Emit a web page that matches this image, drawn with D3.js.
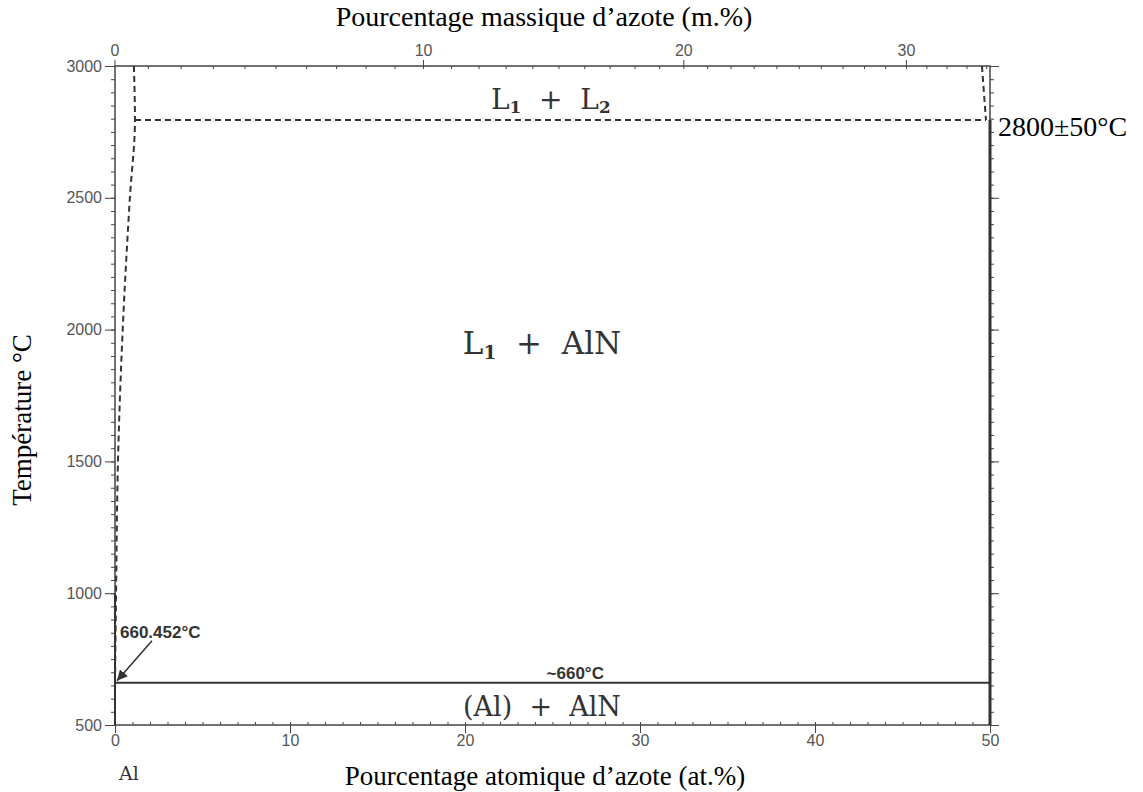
<!DOCTYPE html>
<html>
<head>
<meta charset="utf-8">
<title>Diagramme Al-N</title>
<style>
body { margin: 0; background: #fff; }
.title { font: 27px "Liberation Serif", "Times New Roman", serif; fill: #000; }
.phase { font-family: "DejaVu Serif", serif; fill: #333; }
path.dash { fill: none; stroke: #333; stroke-width: 2px; stroke-dasharray: 6,4; }
</style>
</head>
<body>
<script src="https://cdn.jsdelivr.net/npm/d3@7/dist/d3.min.js"></script>
<script>

// data
var tempTicks = [500, 1000, 1500, 2000, 2500, 3000];
var atTicks = [0, 10, 20, 30, 40, 50];
var wtTicks = [0, 10, 20, 30];
// liquidus of L1 (at.% N, T °C)
var liquidusL1 = [[1.08, 3000], [1.14, 2795], [0.85, 2500], [0.44, 2000], [0.17, 1500], [0.06, 1000], [0, 660.452]];
// liquidus of L2 near AlN
var liquidusL2 = [[49.54, 3000], [49.77, 2795]];
var monotectic = [[1.14, 2795], [49.77, 2795]];
var eutectic = [[0, 660], [50, 660]];
var alnLine = [[50, 500], [50, 2795]];
var alMelt = [0, 660.452];

var width = 1143, height = 792;

var x = d3.scaleLinear().domain([0, 50]).range([115, 990]);
var y = d3.scaleLinear().domain([500, 3000]).range([725, 66]);

// mass % -> atomic %
var MN = 14.007, MAl = 26.982;
function wtToAt(w) {
  var n = w / MN, a = (100 - w) / MAl;
  return 100 * n / (n + a);
}

var svg = d3.select("body").append("svg")
    .attr("width", width)
    .attr("height", height);

function tidy(g) {
  g.select(".domain").remove();
  g.attr("font-size", 16).attr("font-family", "'Liberation Sans', Arial, sans-serif");
  g.selectAll("text").attr("fill", "#555").attr("font-size", 16);
  g.selectAll("line").attr("stroke", "#444");
}

// left axis
var minorT = d3.range(500, 3001, 50);
svg.append("g")
    .attr("transform", "translate(" + x(0) + ",0)")
    .call(d3.axisLeft(y).tickValues(minorT).tickSize(4).tickFormat(""))
    .call(tidy);
svg.append("g")
    .attr("transform", "translate(" + x(0) + ",0)")
    .call(d3.axisLeft(y).tickValues(tempTicks).tickSize(10).tickPadding(3).tickFormat(d3.format("d")))
    .call(tidy);

// right axis
svg.append("g")
    .attr("transform", "translate(" + x(50) + ",0)")
    .call(d3.axisRight(y).tickValues(minorT).tickSize(4).tickFormat(""))
    .call(tidy);
svg.append("g")
    .attr("transform", "translate(" + x(50) + ",0)")
    .call(d3.axisRight(y).tickValues(tempTicks).tickSize(9).tickFormat(""))
    .call(tidy);

// bottom axis
svg.append("g")
    .attr("transform", "translate(0," + y(500) + ")")
    .call(d3.axisTop(x).tickValues(d3.range(0, 51, 1)).tickSize(3).tickFormat(""))
    .call(tidy);
svg.append("g")
    .attr("transform", "translate(0," + y(500) + ")")
    .call(d3.axisBottom(x).tickValues(atTicks).tickSize(8).tickPadding(2).tickFormat(d3.format("d")))
    .call(tidy);

// top axis (mass %)
var topG = svg.append("g").attr("transform", "translate(0," + y(3000) + ")");
topG.selectAll("line.minor")
    .data(d3.range(1, 35, 1))
    .join("line")
    .attr("x1", function(d) { return x(wtToAt(d)); })
    .attr("x2", function(d) { return x(wtToAt(d)); })
    .attr("y1", 0).attr("y2", 3);
var topTicks = topG.selectAll("g.tick")
    .data(wtTicks)
    .join("g")
    .attr("class", "tick")
    .attr("transform", function(d) { return "translate(" + x(wtToAt(d)) + ",0)"; });
topTicks.append("line").attr("y1", 0).attr("y2", -6);
topTicks.append("text").attr("y", -10).attr("text-anchor", "middle").text(function(d) { return d; });
topG.call(tidy);

// frame
var line = d3.line().x(function(d) { return x(d[0]); }).y(function(d) { return y(d[1]); });
svg.append("rect")
    .attr("x", x(0)).attr("y", y(3000))
    .attr("width", x(50) - x(0)).attr("height", y(500) - y(3000))
    .attr("fill", "none").attr("stroke", "#444").attr("stroke-width", 1.5);

// phase boundaries
svg.append("path").datum(liquidusL1).attr("class", "dash")
    .attr("d", d3.line().curve(d3.curveMonotoneY).x(function(d) { return x(d[0]); }).y(function(d) { return y(d[1]); }));
svg.append("path").datum(liquidusL2).attr("class", "dash").attr("d", line);
svg.append("path").datum(monotectic).attr("class", "dash").attr("d", line);
svg.append("path").datum(eutectic).attr("d", line)
    .attr("fill", "none").attr("stroke", "#333").attr("stroke-width", 2);
svg.append("path").datum(alnLine).attr("d", line)
    .attr("fill", "none").attr("stroke", "#333").attr("stroke-width", 3);
svg.append("path").datum([[0, 500], [0, 1000]]).attr("d", line)
    .attr("fill", "none").attr("stroke", "#333").attr("stroke-width", 2);

// arrow to Al melting point
svg.append("defs").append("marker")
    .attr("id", "arr").attr("viewBox", "0 0 10 10")
    .attr("refX", 10).attr("refY", 5)
    .attr("markerWidth", 7).attr("markerHeight", 7)
    .attr("orient", "auto")
  .append("path").attr("d", "M0,0 L10,5 L0,10 z").attr("fill", "#333");
svg.append("line")
    .attr("x1", x(0) + 37).attr("y1", y(alMelt[1]) - 42)
    .attr("x2", x(alMelt[0]) + 2).attr("y2", y(alMelt[1]) - 2)
    .attr("stroke", "#333").attr("stroke-width", 1.5)
    .attr("marker-end", "url(#arr)");
svg.append("text")
    .attr("x", x(0) + 5).attr("y", y(alMelt[1]) - 45)
    .style("font", "bold 17px 'Liberation Sans', Arial, sans-serif").attr("fill", "#333")
    .text("660.452°C");
svg.append("text")
    .attr("x", x(26.3)).attr("y", y(660) - 4)
    .attr("text-anchor", "middle")
    .style("font", "bold 17px 'Liberation Sans', Arial, sans-serif").attr("fill", "#333")
    .text("~660°C");

// phase labels
function phaseLabel(cx, cy, size, parts) {
  var t = svg.append("text").attr("class", "phase")
      .attr("x", cx).attr("y", cy)
      .attr("text-anchor", "middle")
      .style("font-size", size + "px")
      .attr("xml:space", "preserve");
  parts.forEach(function(p) {
    var s = t.append("tspan").text(p[0]);
    if (p[1]) s.attr("baseline-shift", "-25%").style("font-size", (size * 0.6) + "px").style("font-weight", "bold");
  });
}
phaseLabel(x(24.9), 109, 28, [["L"], ["1", true], ["  +  L"], ["2", true]]);
phaseLabel(x(24.4), 354, 31, [["L"], ["1", true], ["  +  AlN"]]);
phaseLabel(x(24.4), 716, 27, [["(Al)  +  AlN"]]);

svg.append("text").attr("class", "phase")
    .attr("x", 129).attr("y", 780)
    .attr("text-anchor", "middle").style("font-size", "19px")
    .text("Al");

// titles
svg.append("text").attr("class", "title")
    .attr("x", 544).attr("y", 26).attr("text-anchor", "middle").style("font-size", "28px")
    .text("Pourcentage massique d\u2019azote (m.%)");
svg.append("text").attr("class", "title")
    .attr("x", 545).attr("y", 785).attr("text-anchor", "middle")
    .text("Pourcentage atomique d\u2019azote (at.%)");
svg.append("text").attr("class", "title")
    .attr("transform", "translate(31,420) rotate(-90)").attr("text-anchor", "middle")
    .text("Température °C");
svg.append("text").attr("class", "title")
    .attr("x", 998).attr("y", 136).style("font-size", "28px")
    .text("2800±50°C");

</script>
</body>
</html>
